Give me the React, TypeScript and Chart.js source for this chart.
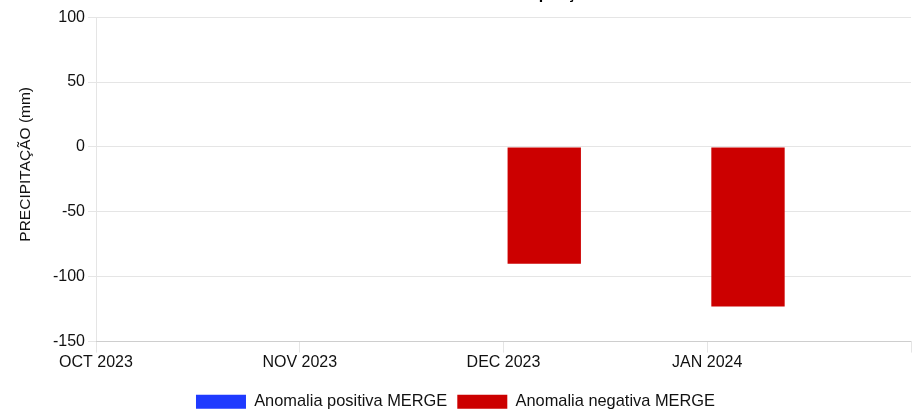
import React, { useEffect, useRef } from "react";
import { Chart, registerables } from "chart.js";

Chart.register(...registerables);

const chartTitle = "Gráfico de Anomalia de Precipitação";
const categories = ["OCT 2023", "NOV 2023", "DEC 2023", "JAN 2024", ""];
const positiveValues: (number | null)[] = [null, null, null, null, null];
const negativeValues: (number | null)[] = [null, null, -90, -123, null];
const yTitle = "PRECIPITAÇÃO (mm)";
const seriesNames = ["Anomalia positiva MERGE", "Anomalia negativa MERGE"];

const FONT = "'Liberation Sans', Arial, Helvetica, sans-serif";

export default function App() {
  const ref = useRef<HTMLCanvasElement | null>(null);

  useEffect(() => {
    if (!ref.current) return;
    const chart = new Chart(ref.current, {
      type: "bar",
      data: {
        labels: categories,
        datasets: [
          {
            label: seriesNames[0],
            data: positiveValues,
            backgroundColor: "rgb(31, 58, 255)",
            borderWidth: 0,
          },
          {
            label: seriesNames[1],
            data: negativeValues,
            backgroundColor: "rgb(204, 0, 0)",
            borderWidth: 0,
          },
        ],
      },
      options: {
        animation: false,
        responsive: true,
        maintainAspectRatio: false,
        layout: { padding: { left: 0, right: 3, top: 0, bottom: 0 } },
        font: { family: FONT },
        plugins: {
          title: {
            display: true,
            text: chartTitle,
            color: "#000",
            font: { family: FONT, size: 16, weight: "bold" },
            padding: { top: 11, bottom: 13 },
          },
          legend: {
            position: "bottom",
            labels: {
              boxWidth: 50,
              boxHeight: 14,
              padding: 10,
              color: "#111",
              font: { family: FONT, size: 16.4 },
            },
          },
          tooltip: { enabled: false },
        },
        scales: {
          x: {
            offset: false,
            grid: {
              drawOnChartArea: false,
              drawTicks: true,
              tickLength: 11,
              offset: false,
              color: "rgba(0,0,0,0.1)",
            },
            border: { display: true, color: "rgba(0,0,0,0.1)" },
            ticks: {
              autoSkip: false,
              maxRotation: 0,
              padding: 0,
              color: "#111",
              font: { family: FONT, size: 16 },
            },
            afterFit: (scale: any) => {
              scale.height = 42;
            },
          },
          y: {
            min: -150,
            max: 100,
            ticks: {
              stepSize: 50,
              padding: 3,
              color: "#111",
              font: { family: FONT, size: 16 },
            },
            grid: {
              tickLength: 8,
              color: "rgba(0,0,0,0.1)",
            },
            border: { display: true, color: "rgba(0,0,0,0.1)" },
            title: {
              display: true,
              text: "       " + yTitle,
              color: "#111",
              font: { family: FONT, size: 15.5 },
              padding: { top: 16.5, bottom: 4 },
            },
            afterFit: (scale: any) => {
              scale.width = 96;
            },
          },
        },
      },
    });
    return () => chart.destroy();
  }, []);

  return (
    <div
      style={{
        position: "fixed",
        left: 0,
        top: 0,
        width: 914,
        height: 410,
        overflow: "hidden",
        background: "#fff",
      }}
    >
      <div style={{ position: "absolute", left: 0, top: -26, width: 914, height: 446 }}>
        <canvas ref={ref} />
      </div>
    </div>
  );
}
